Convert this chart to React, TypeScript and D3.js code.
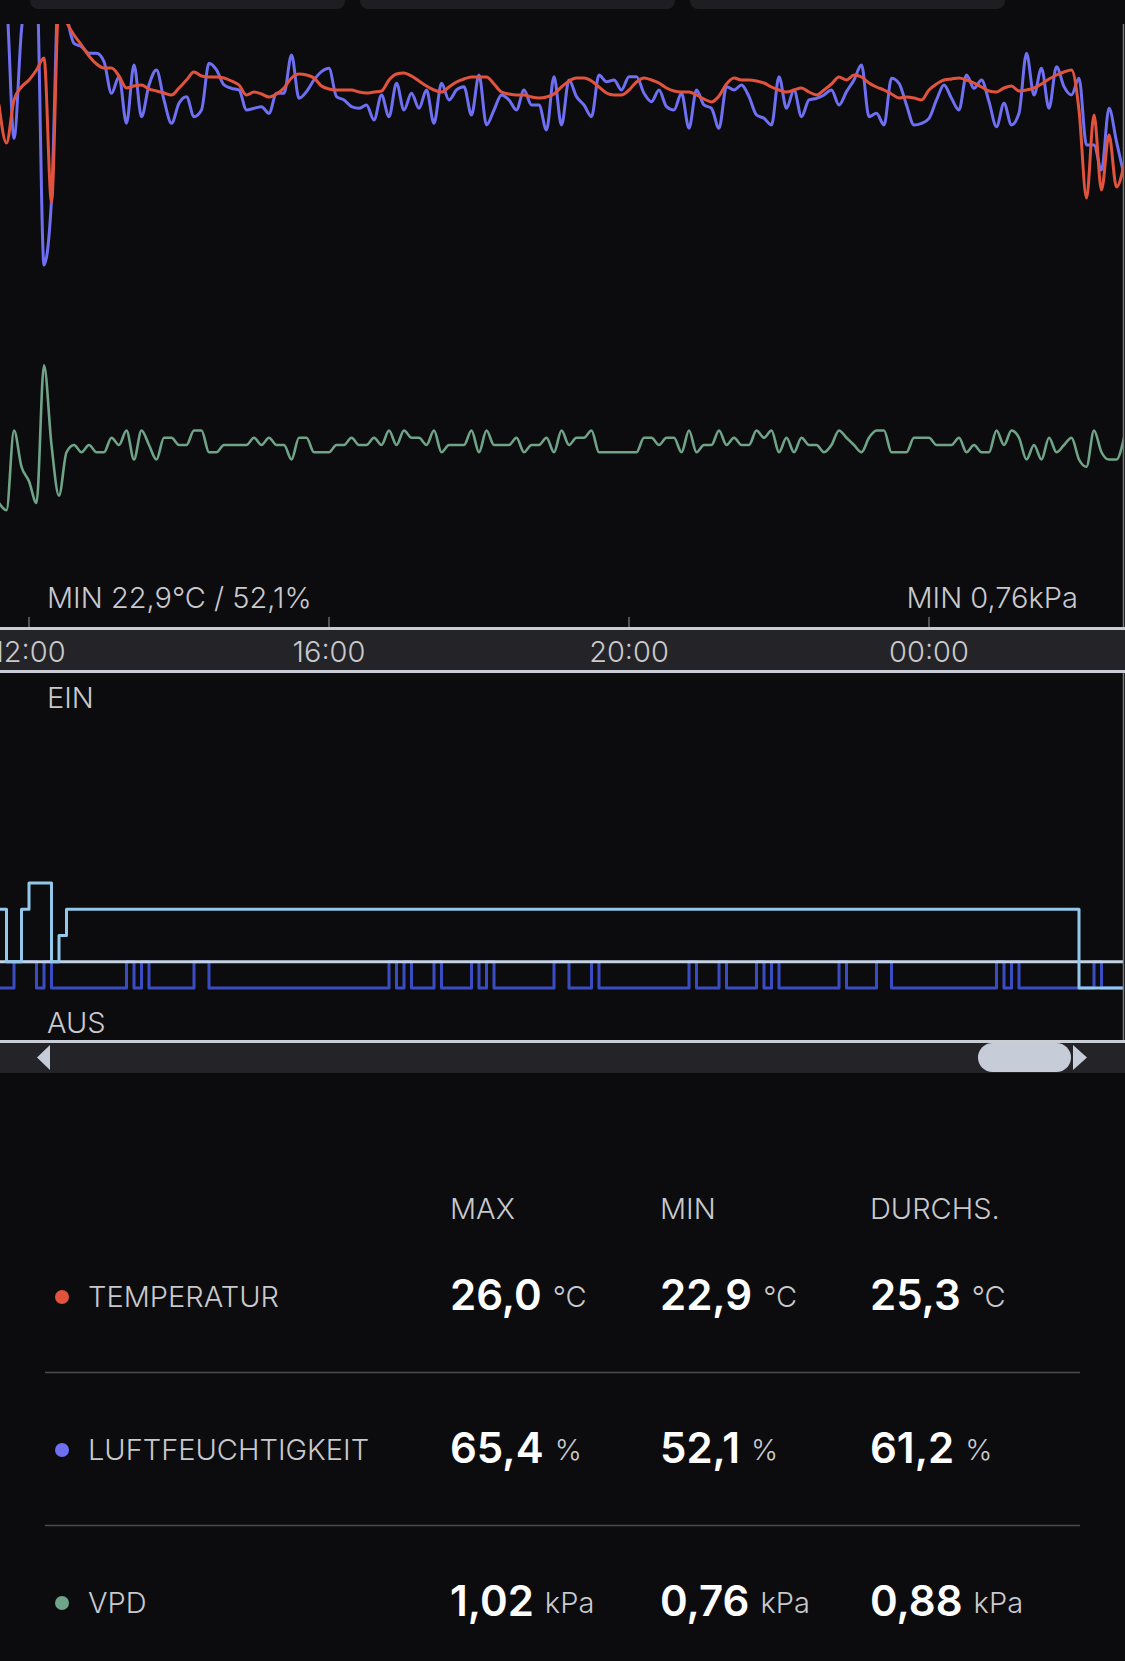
import * as d3 from 'd3';

// sensor samples, one every 6 minutes starting 11:36
const sampleStart = '11:36';
const sampleStepMinutes = 6;

const temperature = [
  24.84, 24.08, 24.94, 25.2, 25.34, 25.54, 25.78, 22.9, 26.9, 26.5,
  26.24, 26.04, 25.82, 25.66, 25.58, 25.58, 25.42, 25.18, 25.22, 25.24,
  25.16, 25.12, 25.08, 25.04, 25.18, 25.34, 25.5, 25.42, 25.4, 25.4,
  25.38, 25.32, 25.24, 25.04, 25.1, 25.06, 25.0, 25.06, 25.18, 25.38,
  25.46, 25.44, 25.38, 25.22, 25.16, 25.14, 25.14, 25.14, 25.1, 25.08,
  25.1, 25.12, 25.34, 25.46, 25.48, 25.42, 25.32, 25.22, 25.14, 25.1,
  25.2, 25.3, 25.36, 25.4, 25.4, 25.4, 25.26, 25.1, 25.06, 25.04,
  25.04, 25.0, 24.98, 25.0, 25.06, 25.2, 25.32, 25.38, 25.38, 25.32,
  25.2, 25.08, 25.04, 25.04, 25.14, 25.3, 25.38, 25.34, 25.28, 25.18,
  25.12, 25.1, 25.1, 25.04, 24.96, 24.9, 25.02, 25.26, 25.38, 25.34,
  25.34, 25.32, 25.28, 25.2, 25.14, 25.1, 25.14, 25.18, 25.1, 25.04,
  25.14, 25.26, 25.4, 25.34, 25.44, 25.4, 25.28, 25.2, 25.14, 25.06,
  24.98, 25.0, 24.98, 24.94, 25.14, 25.26, 25.34, 25.36, 25.38, 25.34,
  25.28, 25.2, 25.12, 25.1, 25.18, 25.22, 25.12, 25.14, 25.18, 25.26,
  25.36, 25.44, 25.5, 25.54, 24.74, 22.98, 24.64, 23.14, 24.24, 23.2,
  23.64
];

const humidity = [
  69.8, 68.0, 59.7, 66.2, 69.2, 69.2, 52.1, 56.0, 69.2, 67.1,
  65.4, 65.2, 64.8, 64.8, 64.3, 62.4, 63.4, 60.6, 64.1, 61.0,
  62.9, 63.8, 62.0, 60.6, 61.8, 62.2, 61.0, 61.4, 64.2, 63.8,
  62.9, 62.7, 62.6, 61.4, 61.5, 61.6, 61.2, 62.4, 62.4, 64.7,
  62.1, 62.5, 63.2, 63.7, 63.9, 62.2, 62.0, 61.6, 61.5, 61.7,
  60.8, 62.3, 61.0, 63.0, 61.4, 62.4, 61.5, 62.6, 60.6, 63.0,
  62.0, 62.6, 62.8, 61.1, 63.5, 60.5, 61.4, 62.3, 62.0, 61.4,
  62.6, 61.7, 61.7, 60.2, 63.4, 60.5, 63.2, 62.2, 61.7, 61.0,
  63.5, 63.1, 63.2, 62.6, 63.4, 63.4, 62.4, 61.9, 62.6, 61.6,
  61.4, 62.4, 60.3, 62.6, 61.7, 61.5, 60.3, 62.8, 62.6, 62.9,
  62.2, 61.1, 60.9, 60.5, 63.4, 61.5, 62.6, 61.0, 62.0, 62.1,
  62.3, 62.6, 61.7, 62.5, 63.2, 64.1, 61.0, 61.2, 60.5, 63.3,
  63.0, 61.7, 60.5, 60.6, 60.9, 62.0, 62.9, 62.1, 61.4, 63.5,
  62.7, 63.2, 61.9, 60.4, 61.8, 60.5, 61.2, 64.8, 62.3, 63.9,
  61.5, 64.0, 62.8, 62.3, 63.3, 59.3, 59.3, 57.8, 61.5, 59.5,
  57.5
];

const vpd = [
  0.8, 0.79, 0.9, 0.85, 0.83, 0.8, 0.99, 0.88, 0.81, 0.87,
  0.88, 0.87, 0.88, 0.87, 0.87, 0.89, 0.88, 0.9, 0.86, 0.9,
  0.88, 0.86, 0.89, 0.89, 0.88, 0.88, 0.9, 0.9, 0.87, 0.87,
  0.88, 0.88, 0.88, 0.88, 0.89, 0.88, 0.89, 0.88, 0.88, 0.86,
  0.89, 0.89, 0.87, 0.87, 0.87, 0.88, 0.88, 0.89, 0.88, 0.88,
  0.89, 0.88, 0.9, 0.88, 0.9, 0.89, 0.89, 0.88, 0.9, 0.87,
  0.88, 0.88, 0.88, 0.9, 0.87, 0.9, 0.88, 0.88, 0.88, 0.89,
  0.87, 0.88, 0.88, 0.89, 0.87, 0.9, 0.88, 0.89, 0.89, 0.9,
  0.87, 0.87, 0.87, 0.87, 0.87, 0.87, 0.89, 0.89, 0.88, 0.89,
  0.89, 0.87, 0.9, 0.87, 0.88, 0.88, 0.9, 0.88, 0.89, 0.88,
  0.88, 0.9, 0.89, 0.9, 0.87, 0.89, 0.87, 0.89, 0.88, 0.88,
  0.87, 0.88, 0.9, 0.89, 0.88, 0.87, 0.89, 0.9, 0.9, 0.87,
  0.87, 0.87, 0.89, 0.89, 0.89, 0.88, 0.88, 0.88, 0.89, 0.87,
  0.88, 0.87, 0.87, 0.9, 0.88, 0.9, 0.89, 0.86, 0.88, 0.86,
  0.89, 0.87, 0.88, 0.89, 0.86, 0.85, 0.9, 0.87, 0.86, 0.86,
  0.89
];

// on/off channels (state changes)
const fanTimes = ['11:36', '11:42', '11:54', '12:00', '12:18', '12:24', '12:30', '02:00', '02:36'];
const fanLevels = [3, 1, 3, 4, 1, 2, 3, 0, 0];

const pumpTimes = [
  '11:36', '11:48', '12:06', '12:12', '12:18', '13:18', '13:24', '13:30', '13:36', '14:12',
  '14:24', '16:48', '16:54', '17:00', '17:06', '17:24', '17:30', '17:54', '18:00', '18:06',
  '18:12', '19:00', '19:12', '19:30', '19:36', '20:48', '20:54', '21:12', '21:18', '21:42',
  '21:48', '21:54', '22:00', '22:48', '22:54', '23:18', '23:30', '00:54', '01:00', '01:06',
  '01:12', '02:12', '02:18', '02:36'
];
const pumpLevels = [
  0, 1, 0, 1, 0, 1, 0, 1, 0, 1,
  0, 1, 0, 1, 0, 1, 0, 1, 0, 1,
  0, 1, 0, 1, 0, 1, 0, 1, 0, 1,
  0, 1, 0, 1, 0, 1, 0, 1, 0, 1,
  0, 1, 0, 0
];

const baseTimes = ['11:36', '02:36'];
const baseLevels = [1, 1];

const statNames = ['TEMPERATUR', 'LUFTFEUCHTIGKEIT', 'VPD'];
const statColors = ['#e2533e', '#6f6ff2', '#6fa489'];
const statUnits = ['°C', '%', 'kPa'];
const statDigits = [1, 1, 2];
const statMax = [26.0, 65.4, 1.02];
const statMin = [22.9, 52.1, 0.76];
const statAvg = [25.3, 61.2, 0.88];
const statHeaders = ['MAX', 'MIN', 'DURCHS.'];

const W = 1125;
const H = 1661;
const font = 'Inter, "Noto Sans", sans-serif';
const textGray = '#c9c9cd';
const lineGray = '#c9cdd6';

const parseStamp = d3.timeParse('%Y-%m-%d %H:%M');
const clock = (hm: string) => {
  const h = +hm.slice(0, 2);
  return parseStamp(`2024-05-${h < 11 ? '02' : '01'} ${hm}`) as Date;
};

const de = d3.formatLocale({ decimal: ',', thousands: '.', grouping: [3], currency: ['', ' €'] });

export default function App() {
  const x = d3.scaleTime().domain([clock('12:00'), clock('00:00')]).range([29, 929]);
  const ticks = x.ticks(d3.timeHour.every(4) as d3.TimeInterval);
  const fmtTick = d3.timeFormat('%H:%M');

  const yTemp = d3.scaleLinear().domain([22.9, 26.0]).range([202, 47]);
  const yHum = d3.scaleLinear().domain([52.1, 65.4]).range([265, 43.3]);
  const yVpd = d3.scaleLinear().domain([0.76, 1.02]).range([532, 343.5]);
  const yLevel = d3.scaleLinear().domain([0, 4]).range([988, 883]);

  const t0 = clock(sampleStart);
  const times = temperature.map((_, i) => d3.timeMinute.offset(t0, i * sampleStepMinutes));

  const seriesLine = (ys: d3.ScaleLinear<number, number>) =>
    d3
      .line<number>()
      .x((_, i) => x(times[i]))
      .y((d) => ys(d))
      .curve(d3.curveMonotoneX);

  const stepLine = d3
    .line<[Date, number]>()
    .x((d) => x(d[0]))
    .y((d) => yLevel(d[1]))
    .curve(d3.curveStepAfter);

  const steps = (ts: string[], ls: number[]) =>
    stepLine(ts.map((t, i) => [clock(t), ls[i]] as [Date, number])) || '';

  const fmt = (v: number, d: number) => de.format(`.${d}f`)(v);

  const rowY = (i: number) => 1307 + i * 153;
  const colX = [450, 660, 870];

  return (
    <svg
      width={W}
      height={H}
      style={{ position: 'absolute', left: 0, top: 0, display: 'block', fontFamily: font }}
    >
      <defs>
        <clipPath id="plot">
          <rect x={0} y={24} width={1123} height={603} />
        </clipPath>
        <clipPath id="states">
          <rect x={0} y={674} width={1123} height={366} />
        </clipPath>
      </defs>
      <rect width={W} height={H} fill="#0c0c0e" />

      {/* tab buttons, cut by the top edge */}
      {[30, 360, 690].map((bx) => (
        <rect key={bx} x={bx} y={-20} width={315} height={29} rx={8} fill="#1d1d22" />
      ))}

      {/* line chart */}
      <g clipPath="url(#plot)" fill="none" strokeLinejoin="round" strokeLinecap="round">
        <path d={seriesLine(yVpd)(vpd) || ''} stroke="#6fa489" strokeWidth={2.6} />
        <path d={seriesLine(yHum)(humidity) || ''} stroke="#6f6ff2" strokeWidth={3} />
        <path d={seriesLine(yTemp)(temperature) || ''} stroke="#e2533e" strokeWidth={3} />
      </g>
      <line x1={1123.5} x2={1123.5} y1={24} y2={627} stroke="#77777d" strokeWidth={1.5} />

      <text x={47} y={608} fill={textGray} fontSize={29} fontWeight={300}>
        {`MIN ${fmt(statMin[0], 1)}°C / ${fmt(statMin[1], 1)}%`}
      </text>
      <text x={1078} y={608} fill={textGray} fontSize={29} fontWeight={300} textAnchor="end">
        {`MIN ${fmt(statMin[2], 2)}kPa`}
      </text>

      {/* time axis */}
      {ticks.map((t) => (
        <line key={+t} x1={x(t)} x2={x(t)} y1={617} y2={628} stroke="#9a9aa0" strokeWidth={1} />
      ))}
      <rect x={0} y={629} width={W} height={42} fill="#242428" />
      <rect x={0} y={627} width={W} height={3} fill={lineGray} />
      <rect x={0} y={670} width={W} height={3} fill={lineGray} />
      {ticks.map((t) => (
        <text
          key={+t}
          x={x(t)}
          y={662}
          fill={textGray}
          fontSize={29}
          fontWeight={300}
          textAnchor="middle"
        >
          {fmtTick(t)}
        </text>
      ))}

      {/* on/off chart */}
      <text x={47} y={708} fill={textGray} fontSize={29} fontWeight={300}>
        EIN
      </text>
      <g clipPath="url(#states)" fill="none" strokeWidth={3} strokeLinejoin="round">
        <path d={steps(pumpTimes, pumpLevels)} stroke="#3a4cc2" />
        <path d={steps(baseTimes, baseLevels)} stroke="#c4d3e3" />
        <path d={steps(fanTimes, fanLevels)} stroke="#92c8ea" />
      </g>
      <line x1={1123.5} x2={1123.5} y1={673} y2={1040} stroke="#77777d" strokeWidth={1.5} />
      <text x={47} y={1033} fill={textGray} fontSize={29} fontWeight={300}>
        AUS
      </text>

      {/* scroll bar */}
      <rect x={0} y={1043} width={W} height={30} fill="#242428" />
      <rect x={0} y={1040} width={W} height={3} fill={lineGray} />
      <path d="M37,1057.5 L50,1045 L50,1070 Z" fill="#c6ccd8" />
      <rect x={978} y={1043} width={93} height={29} rx={14.5} fill="#c6ccd8" />
      <path d="M1087,1057.5 L1073,1045 L1073,1070 Z" fill="#c6ccd8" />

      {/* statistics table */}
      {statHeaders.map((h, i) => (
        <text key={h} x={colX[i]} y={1219} fill={textGray} fontSize={29} fontWeight={300}>
          {h}
        </text>
      ))}
      {statNames.map((name, r) => (
        <g key={name}>
          <circle cx={62} cy={rowY(r) - 10} r={7} fill={statColors[r]} />
          <text x={88} y={rowY(r)} fill={textGray} fontSize={29} fontWeight={300}>
            {name}
          </text>
          {[statMax[r], statMin[r], statAvg[r]].map((v, c) => (
            <text key={c} x={colX[c]} y={rowY(r) + 3}>
              <tspan fill="#ffffff" fontSize={42} fontWeight={600}>
                {fmt(v, statDigits[r])}
              </tspan>
              <tspan fill={textGray} fontSize={29} fontWeight={300} dx={11} dy={-3}>
                {statUnits[r]}
              </tspan>
            </text>
          ))}
          {r < statNames.length - 1 && (
            <line x1={45} x2={1080} y1={rowY(r) + 65.5} y2={rowY(r) + 65.5} stroke="#4a4a4f" strokeWidth={1.5} />
          )}
        </g>
      ))}
    </svg>
  );
}
